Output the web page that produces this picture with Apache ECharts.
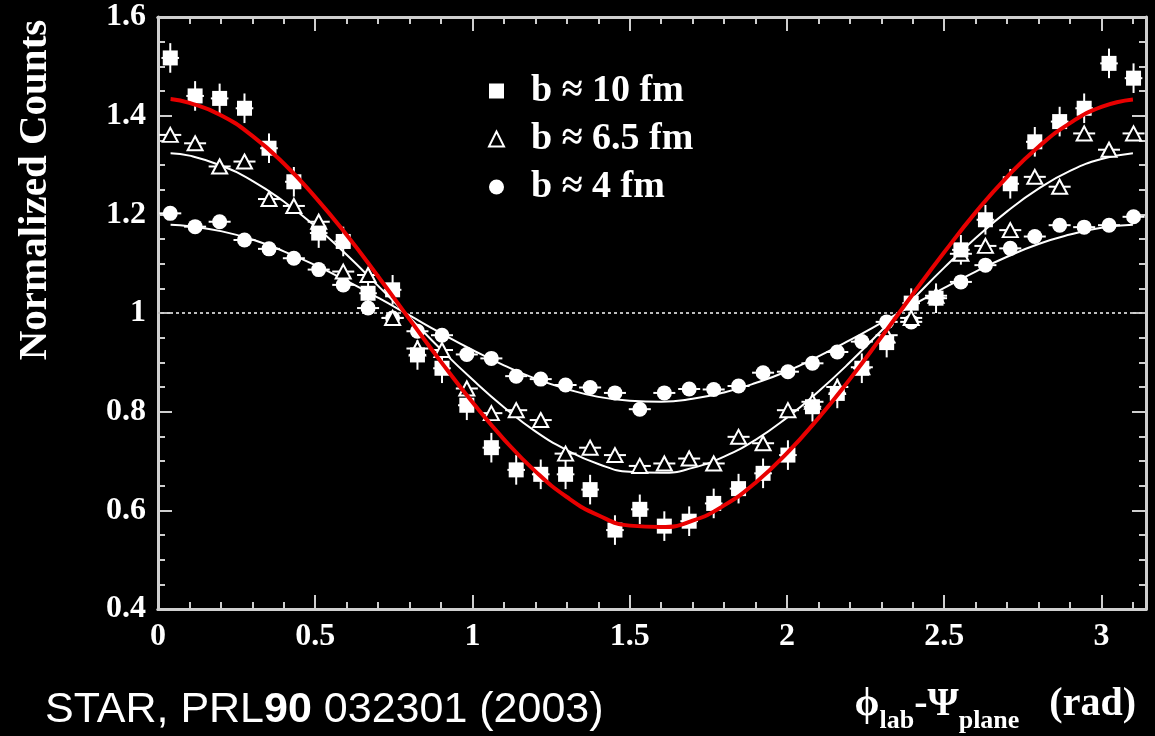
<!DOCTYPE html>
<html>
<head>
<meta charset="utf-8">
<script src="https://cdn.jsdelivr.net/npm/echarts@6/dist/echarts.min.js"></script>
<style>
  html, body { margin: 0; padding: 0; background: #000; }
  #chart { width: 1155px; height: 736px; }
</style>
</head>
<body>
<div id="chart"></div>
<script>
// Azimuthal bins (bin centres, rad): 40 bins over [0, pi]
const phi = [0.039, 0.118, 0.196, 0.275, 0.353, 0.432, 0.511, 0.589, 0.668, 0.746,
             0.825, 0.903, 0.982, 1.060, 1.139, 1.217, 1.296, 1.374, 1.453, 1.532,
             1.610, 1.689, 1.767, 1.846, 1.924, 2.003, 2.081, 2.160, 2.238, 2.317,
             2.395, 2.474, 2.553, 2.631, 2.710, 2.788, 2.867, 2.945, 3.024, 3.102];

// Normalized counts, b ~ 10 fm (squares)
const b10 = [1.517, 1.440, 1.435, 1.415, 1.334, 1.266, 1.162, 1.145, 1.040, 1.047,
             0.915, 0.888, 0.813, 0.727, 0.682, 0.673, 0.673, 0.642, 0.560, 0.602,
             0.568, 0.578, 0.614, 0.644, 0.675, 0.712, 0.810, 0.837, 0.888, 0.940,
             1.020, 1.030, 1.128, 1.189, 1.262, 1.347, 1.388, 1.415, 1.506, 1.476];

// Normalized counts, b ~ 6.5 fm (open triangles)
const b65 = [1.361, 1.344, 1.297, 1.307, 1.231, 1.217, 1.185, 1.084, 1.077, 0.990,
             0.928, 0.925, 0.847, 0.797, 0.803, 0.783, 0.715, 0.727, 0.712, 0.690,
             0.695, 0.705, 0.695, 0.749, 0.736, 0.803, 0.820, 0.850, 0.890, 0.955,
             0.990, 1.035, 1.120, 1.136, 1.168, 1.276, 1.256, 1.364, 1.331, 1.364];

// Normalized counts, b ~ 4 fm (circles)
const b4 = [1.202, 1.175, 1.185, 1.148, 1.130, 1.111, 1.088, 1.057, 1.010, 0.990,
            0.963, 0.955, 0.916, 0.908, 0.872, 0.866, 0.854, 0.849, 0.838, 0.805,
            0.838, 0.846, 0.845, 0.852, 0.879, 0.881, 0.898, 0.921, 0.942, 0.982,
            0.982, 1.030, 1.063, 1.097, 1.131, 1.155, 1.178, 1.174, 1.178, 1.195];

// Fit curves sampled along phi
const fitPhi = [0.04, 0.1, 0.2, 0.3, 0.4, 0.5, 0.6, 0.7, 0.8, 0.9, 1.0, 1.1, 1.2, 1.3, 1.4, 1.5,
                1.6, 1.7, 1.8, 1.9, 2.0, 2.1, 2.2, 2.3, 2.4, 2.5, 2.6, 2.7, 2.8, 2.9, 3.0, 3.1];
const fit10 = [1.434, 1.426, 1.401, 1.359, 1.303, 1.235, 1.158, 1.074, 0.987, 0.901, 0.819, 0.744, 0.679, 0.627, 0.590, 0.569,
               0.566, 0.579, 0.610, 0.656, 0.716, 0.787, 0.866, 0.951, 1.038, 1.123, 1.204, 1.276, 1.337, 1.385, 1.418, 1.433];
const fit65 = [1.324, 1.319, 1.299, 1.268, 1.226, 1.176, 1.118, 1.055, 0.991, 0.926, 0.865, 0.809, 0.760, 0.722, 0.694, 0.678,
               0.676, 0.686, 0.709, 0.743, 0.788, 0.841, 0.900, 0.964, 1.028, 1.092, 1.152, 1.206, 1.252, 1.288, 1.312, 1.324];
const fit4  = [1.179, 1.176, 1.166, 1.149, 1.125, 1.097, 1.065, 1.031, 0.995, 0.959, 0.925, 0.894, 0.867, 0.846, 0.830, 0.822,
               0.820, 0.826, 0.839, 0.858, 0.882, 0.912, 0.945, 0.980, 1.016, 1.051, 1.084, 1.114, 1.140, 1.159, 1.173, 1.179];

// Error bar half-widths (x: rad, y: counts)
const errX = 0.035;
const errY10 = 0.03;
const errY65 = 0.01;
const errY4 = 0.008;

const legendNames = ['b \u2248 10 fm', 'b \u2248 6.5 fm', 'b \u2248 4 fm'];

const SERIF = '"Liberation Serif", "Times New Roman", serif';
const SANS = '"Liberation Sans", Arial, sans-serif';
const AXIS_COLOR = '#cfcfcf';

const pairs = (xs, ys) => xs.map((x, i) => [x, ys[i]]);

function errorBars(ex, ey) {
  return function (params, api) {
    const x = api.value(0), y = api.value(1);
    const c = api.coord([x, y]);
    const l = api.coord([x - ex, y]);
    const r = api.coord([x + ex, y]);
    const t = api.coord([x, y + ey]);
    const b = api.coord([x, y - ey]);
    const style = { stroke: '#ffffff', lineWidth: 2 };
    return {
      type: 'group',
      children: [
        { type: 'line', shape: { x1: l[0], y1: c[1], x2: r[0], y2: c[1] }, style: style },
        { type: 'line', shape: { x1: c[0], y1: t[1], x2: c[0], y2: b[1] }, style: style }
      ]
    };
  };
}

const chart = echarts.init(document.getElementById('chart'), null, { renderer: 'canvas' });

const gridBox = { left: 158, top: 17, width: 988, height: 592 };

function xAxisDef(position, interval, tickLen, labels) {
  return {
    type: 'value', position: position, min: 0, max: Math.PI, interval: interval,
    axisLine: { show: true, onZero: false, lineStyle: { color: AXIS_COLOR, width: 3 } },
    axisTick: { show: true, inside: true, length: tickLen, lineStyle: { color: AXIS_COLOR, width: 2 } },
    axisLabel: labels ? {
      show: true, margin: 12, color: '#ffffff', fontFamily: SERIF, fontWeight: 'bold', fontSize: 32,
      showMaxLabel: false
    } : { show: false },
    splitLine: { show: false }
  };
}

function yAxisDef(position, labels) {
  return {
    type: 'value', position: position, min: 0.4, max: 1.6, interval: 0.2,
    axisLine: { show: true, onZero: false, lineStyle: { color: AXIS_COLOR, width: 3 } },
    axisTick: { show: true, inside: true, length: 14, lineStyle: { color: AXIS_COLOR, width: 2 } },
    minorTick: { show: true, splitNumber: 4, length: 7, lineStyle: { color: AXIS_COLOR, width: 2 } },
    axisLabel: labels ? {
      show: true, margin: 12, color: '#ffffff', fontFamily: SERIF, fontWeight: 'bold', fontSize: 32
    } : { show: false },
    splitLine: { show: false }
  };
}

const option = {
  backgroundColor: '#000000',
  animation: false,
  grid: gridBox,
  xAxis: [
    xAxisDef('bottom', 0.5, 14, true),
    xAxisDef('bottom', 0.1, 7, false),
    xAxisDef('top', 0.5, 14, false),
    xAxisDef('top', 0.1, 7, false)
  ],
  yAxis: [
    yAxisDef('left', true),
    yAxisDef('right', false)
  ],
  legend: {
    orient: 'vertical',
    left: 483,
    top: 66,
    itemWidth: 15,
    itemHeight: 15,
    itemGap: 8,
    selectedMode: false,
    textStyle: {
      color: '#ffffff', fontFamily: SERIF, fontWeight: 'bold', fontSize: 38,
      lineHeight: 40, padding: [0, 0, 0, 22]
    },
    data: [
      { name: legendNames[0], icon: 'rect', itemStyle: { color: '#ffffff', borderWidth: 0 } },
      { name: legendNames[1], icon: 'triangle', itemStyle: { color: '#000000', borderColor: '#ffffff', borderWidth: 2 } },
      { name: legendNames[2], icon: 'circle', itemStyle: { color: '#ffffff', borderWidth: 0 } }
    ]
  },
  graphic: [
    {
      type: 'text', x: 35, y: 190, rotation: Math.PI / 2,
      style: {
        text: 'Normalized Counts', fill: '#ffffff',
        font: 'bold 41px ' + SERIF, align: 'center', verticalAlign: 'middle'
      }
    },
    {
      type: 'text', x: 1136, y: 705,
      style: {
        text: '{t|\u03d5}{s|lab}{t|-\u03a8}{s|plane}{t|   (rad)}',
        align: 'right', verticalAlign: 'middle', fill: '#ffffff',
        rich: {
          t: { fontFamily: SERIF, fontWeight: 'bold', fontSize: 40, lineHeight: 50, fill: '#ffffff', verticalAlign: 'middle' },
          s: { fontFamily: SERIF, fontWeight: 'bold', fontSize: 26, lineHeight: 58, fill: '#ffffff', verticalAlign: 'bottom' }
        }
      }
    },
    {
      type: 'text', x: 45, y: 710,
      style: {
        text: '{n|STAR, PRL}{b|90}{n| 032301 (2003)}',
        align: 'left', verticalAlign: 'middle', fill: '#ffffff',
        rich: {
          n: { fontFamily: SANS, fontSize: 43, fill: '#ffffff' },
          b: { fontFamily: SANS, fontWeight: 'bold', fontSize: 43, fill: '#ffffff' }
        }
      }
    }
  ],
  series: [
    {
      name: 'unit', type: 'line', data: [], xAxisIndex: 0, yAxisIndex: 0,
      markLine: {
        silent: true, symbol: 'none', label: { show: false },
        lineStyle: { type: [3, 3], color: '#bdbdbd', width: 2 },
        data: [{ yAxis: 1 }]
      }
    },
    {
      name: 'fit4', type: 'line', data: pairs(fitPhi, fit4), smooth: true, showSymbol: false,
      lineStyle: { color: '#ffffff', width: 2 }, z: 3
    },
    {
      name: 'fit65', type: 'line', data: pairs(fitPhi, fit65), smooth: true, showSymbol: false,
      lineStyle: { color: '#ffffff', width: 2 }, z: 3
    },
    {
      name: 'err4', type: 'custom', data: pairs(phi, b4), renderItem: errorBars(errX, errY4), z: 4
    },
    {
      name: 'err65', type: 'custom', data: pairs(phi, b65), renderItem: errorBars(errX, errY65), z: 4
    },
    {
      name: 'err10', type: 'custom', data: pairs(phi, b10), renderItem: errorBars(errX * 0.8, errY10), z: 4
    },
    {
      name: legendNames[2], type: 'scatter', data: pairs(phi, b4), symbol: 'circle', symbolSize: 15,
      itemStyle: { color: '#ffffff', opacity: 1 }, z: 5
    },
    {
      name: legendNames[1], type: 'scatter', data: pairs(phi, b65), symbol: 'triangle', symbolSize: [15, 14],
      itemStyle: { color: '#000000', borderColor: '#ffffff', borderWidth: 2, opacity: 1 }, z: 5
    },
    {
      name: legendNames[0], type: 'scatter', data: pairs(phi, b10), symbol: 'rect', symbolSize: 15,
      itemStyle: { color: '#ffffff', opacity: 1 }, z: 5
    },
    {
      name: 'fit10', type: 'line', data: pairs(fitPhi, fit10), smooth: true, showSymbol: false,
      lineStyle: { color: '#e80000', width: 4 }, z: 6
    }
  ]
};

chart.setOption(option);
</script>
</body>
</html>
